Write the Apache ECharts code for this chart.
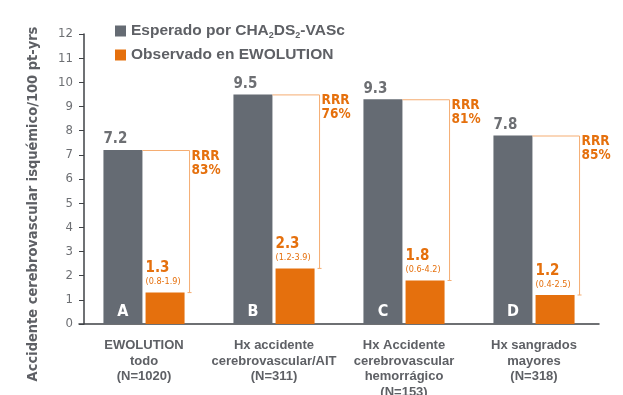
<!DOCTYPE html>
<html><head><meta charset="utf-8">
<script src="https://cdn.jsdelivr.net/npm/echarts@6/dist/echarts.min.js"></script>
<style>html,body{margin:0;padding:0;background:#fff}#c{width:623px;height:395px}</style>
</head><body><div id="c"></div>
<script>
const categories = ['EWOLUTION\ntodo\n(N=1020)', 'Hx accidente\ncerebrovascular/AIT\n(N=311)', 'Hx Accidente\ncerebrovascular\nhemorrágico\n(N=153)', 'Hx sangrados\nmayores\n(N=318)'];
const letters = ['A', 'B', 'C', 'D'];
const expected = [7.2, 9.5, 9.3, 7.8];
const observed = [1.3, 2.3, 1.8, 1.2];
const observedCI = ['(0.8-1.9)', '(1.2-3.9)', '(0.6-4.2)', '(0.4-2.5)'];
const rrr = ['83%', '76%', '81%', '85%'];
const yTicks = [0, 12, 1];

const GRAY = '#656b73', ORANGE = '#e5700d', LINE = '#f5ad72', TXT = '#5e6065';
const NARROW = '"DejaVu Sans Condensed", "Liberation Sans Narrow", "Liberation Sans", Arial, sans-serif';
const SANS = '"Liberation Sans", Arial, sans-serif';
const BAR_FRAC = 0.3, GAP_FRAC = 0.08;

const chart = echarts.init(document.getElementById('c'));
chart.setOption({
  animation: false,
  legend: {
    orient: 'vertical', left: 110, top: 18, itemWidth: 11, itemHeight: 11, itemGap: 7,
    icon: 'rect',
    textStyle: { fontFamily: SANS, fontWeight: 'bold', fontSize: 15.5, color: TXT,
      rich: {
        a: { fontFamily: SANS, fontWeight: 'bold', fontSize: 15.5, color: TXT },
        s: { fontFamily: SANS, fontWeight: 'bold', fontSize: 9, color: TXT, padding: [9, 0, 0, 0] }
      } },
    formatter: function (n) {
      if (n.indexOf('CHA') >= 0) return '{a|Esperado por CHA}{s|2}{a|DS}{s|2}{a|-VASc}';
      return '{a|' + n + '}';
    },
    data: ['Esperado por CHA2DS2-VASc', 'Observado en EWOLUTION']
  },
  grid: { left: 79, right: 24, top: 34, bottom: 71, containLabel: false, outerBoundsMode: 'none' },
  xAxis: {
    type: 'category', data: categories,
    axisLine: { lineStyle: { color: '#3f4246', width: 1.5 } },
    axisTick: { show: false },
    axisLabel: { interval: 0, margin: 14, fontFamily: SANS, fontWeight: 'bold', fontSize: 13, color: TXT, lineHeight: 15.5, align: 'center' }
  },
  yAxis: {
    type: 'value', min: yTicks[0], max: yTicks[1], interval: yTicks[2], offset: -5,
    name: 'Accidente cerebrovascular isquémico/100 pt-yrs',
    nameLocation: 'middle', nameGap: 43, nameRotate: 90,
    nameTextStyle: { fontFamily: NARROW, fontWeight: 'bold', fontSize: 14.5, color: TXT, padding: [0, 50, 0, 0] },
    axisLine: { show: true, lineStyle: { color: '#3f4246', width: 1.5 } },
    axisTick: { show: true, length: 5, lineStyle: { color: '#3f4246' } },
    splitLine: { show: false },
    axisLabel: { margin: 11, fontFamily: NARROW, fontSize: 13, color: '#6d6f73' }
  },
  series: [
    {
      name: 'Esperado por CHA2DS2-VASc', type: 'bar', barWidth: (BAR_FRAC * 100) + '%', barGap: (GAP_FRAC * 100) + '%',
      itemStyle: { color: GRAY },
      data: expected,
      label: {
        show: true, position: [0, -3], align: 'left', verticalAlign: 'bottom',
        formatter: function (p) { return p.value.toFixed(1); },
        fontFamily: NARROW, fontWeight: 'bold', fontSize: 15, color: '#6d6f73'
      },
      z: 2
    },
    {
      name: 'Observado en EWOLUTION', type: 'bar', barWidth: (BAR_FRAC * 100) + '%',
      itemStyle: { color: ORANGE },
      data: observed,
      label: {
        show: true, position: [0, -5], align: 'left', verticalAlign: 'bottom',
        formatter: function (p) { return '{v|' + p.value.toFixed(1) + '}\n{ci|' + observedCI[p.dataIndex] + '}'; },
        rich: {
          v: { fontFamily: NARROW, fontWeight: 'bold', fontSize: 15, color: ORANGE, lineHeight: 16 },
          ci: { fontFamily: NARROW, fontSize: 9, color: ORANGE, lineHeight: 11 }
        }
      },
      z: 2
    },
    {
      type: 'custom', silent: true, z: 3,
      data: expected.map(function (v, i) { return [i, v, observed[i]]; }),
      renderItem: function (params, api) {
        const top = api.coord([api.value(0), api.value(1)]);
        const bot = api.coord([api.value(0), api.value(2)]);
        const base = api.coord([api.value(0), 0]);
        const band = api.size([1, 0])[0];
        const half = (2 * BAR_FRAC + BAR_FRAC * GAP_FRAC) * band / 2;
        const grayRight = top[0] - half + BAR_FRAC * band;
        const grayMid = top[0] - half + BAR_FRAC * band / 2;
        const bx = top[0] + half + 5;
        return {
          type: 'group',
          children: [
            { type: 'polyline', shape: { points: [[grayRight, top[1] + 0.5], [bx, top[1] + 0.5], [bx, bot[1]]] },
              style: { stroke: LINE, lineWidth: 1, fill: null } },
            { type: 'line', shape: { x1: bx - 2, y1: bot[1], x2: bx + 2, y2: bot[1] },
              style: { stroke: LINE, lineWidth: 1 } },
            { type: 'text', x: bx + 2, y: top[1] - 1,
              style: { text: 'RRR\n' + rrr[params.dataIndex], fill: ORANGE, font: 'bold 13.5px ' + NARROW,
                lineHeight: 14, verticalAlign: 'top', align: 'left' } },
            { type: 'text', x: grayMid, y: base[1] - 4,
              style: { text: letters[params.dataIndex], fill: '#ffffff', font: 'bold 16px ' + NARROW,
                verticalAlign: 'bottom', align: 'center' } }
          ]
        };
      }
    }
  ]
});
</script></body></html>
